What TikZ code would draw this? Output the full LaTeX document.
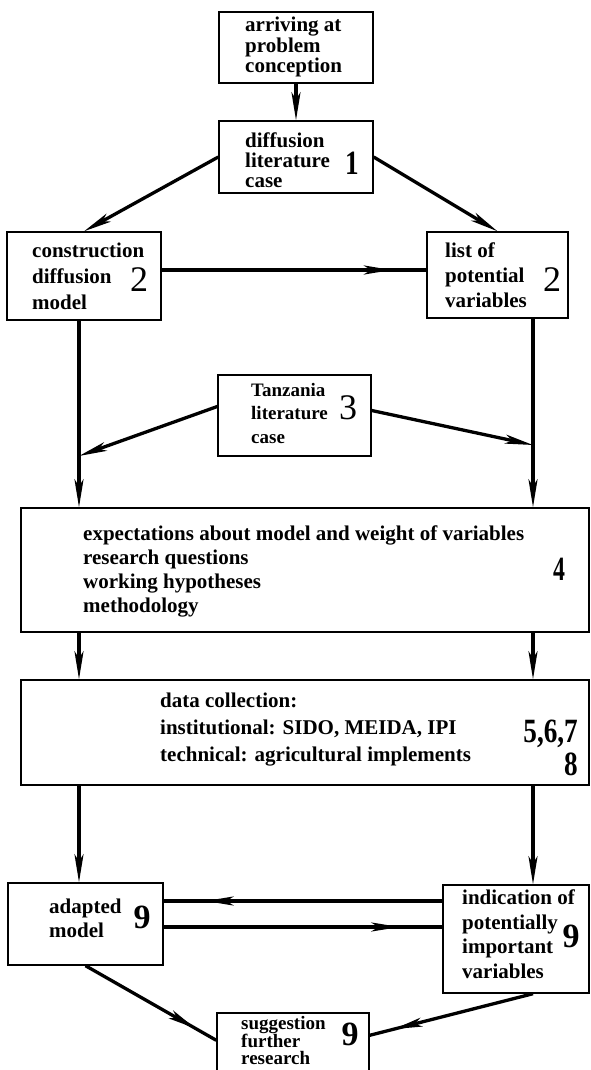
\documentclass[tikz,border=0pt]{standalone}
\usepackage{fontspec}
\setmainfont{Liberation Serif}
\usetikzlibrary{arrows.meta,decorations.markings}

\tikzset{
  hd/.tip={Stealth[length=28pt,width=9pt,inset=7pt]},
  link/.style={line width=3.3pt},
  endarrow/.style={link,-{hd}},
  midarrow/.style={link,postaction={decorate},
    decoration={markings,mark=at position #1 with {\arrow{hd}}}},
  stepbox/.style={draw,line width=1.4pt,inner sep=0pt},
  txt/.style={font=\bfseries\fontsize{21}{#1}\selectfont,align=left,anchor=west,inner sep=0pt},
  smalltxt/.style={font=\bfseries\fontsize{19}{#1}\selectfont,align=left,anchor=west,inner sep=0pt},
  num/.style={font=\bfseries\fontsize{34}{34}\selectfont,inner sep=0pt},
  numlight/.style={font=\fontsize{36}{36}\selectfont,inner sep=0pt},
}
% narrower digits for the stage numbers
\newcommand{\tightnum}[1]{\scalebox{0.8}[1]{#1}}

\begin{document}
\begin{tikzpicture}[x=1pt,y=-1pt]
\useasboundingbox (0,0) rectangle (591,1070);
\coordinate (lv) at (79,0);
\coordinate (rv) at (533,0);

% boxes
\node[stepbox,minimum width=154pt,minimum height=71pt] (prob) at (296,47.5) {};
\node[stepbox,minimum width=154pt,minimum height=72pt] (diff) at (296,157) {};
\node[stepbox,minimum width=154pt,minimum height=88pt] (cons) at (84,276) {};
\node[stepbox,minimum width=141pt,minimum height=86pt] (list) at (497.5,275) {};
\node[stepbox,minimum width=153pt,minimum height=81pt] (tanz) at (294.5,415.5) {};
\node[stepbox,minimum width=568pt,minimum height=124pt] (box4) at (305,570) {};
\node[stepbox,minimum width=568pt,minimum height=105pt] (box5) at (305,732.5) {};
\node[stepbox,minimum width=155pt,minimum height=82pt] (adap) at (85.5,924) {};
\node[stepbox,minimum width=146pt,minimum height=108pt] (indic) at (516,939) {};
\node[stepbox,minimum width=152pt,minimum height=72pt] (sugg) at (293,1049) {};

% texts
\node[txt=20.5] (probtxt) at (245,47) {arriving at\\problem\\conception};
\node[txt=20] (difftxt) at (245,160) {diffusion\\literature\\case};
\node[num] (diffnum) at (352,163) {\tightnum{1}};
\node[txt=26] (constxt) at (32,276) {construction\\diffusion\\model};
\node[numlight] (consnum) at (139,280) {2};
\node[txt=25] (listtxt) at (445,275) {list of\\potential\\variables};
\node[numlight] (listnum) at (552,280) {2};
\node[smalltxt=23.5] (tanztxt) at (251,413) {Tanzania\\literature\\case};
\node[numlight] (tanznum) at (348,408) {3};
\node[txt=24] (box4txt) at (83,571) {expectations about model and weight of variables\\research questions\\working hypotheses\\methodology};
\node[num] (box4num) at (559,569) {\scalebox{0.7}[1]{4}};
\node[txt=27] (box5txt) at (160,730) {data collection:\\institutional: SIDO, MEIDA, IPI\\technical: agricultural implements};
\node[num,anchor=east] (box5numa) at (578,734) {\tightnum{5,6,7}};
\node[num,anchor=east] (box5numb) at (578,764) {\tightnum{8}};
\node[txt=24] (adaptxt) at (49,918) {adapted\\model};
\node[num] (adapnum) at (142,917) {9};
\node[txt=24.5] (indictxt) at (462,934) {indication of\\potentially\\important\\variables};
\node[num] (indicnum) at (571,936) {9};
\node[smalltxt=17,anchor=north west] (suggtxt) at (241,1016) {suggestion\\further\\research};
\node[num] (suggnum) at (350,1034) {9};

% connectors
\coordinate (tl) at (79,456);
\coordinate (tr) at (533,445);
\draw[endarrow] (prob) -- (diff);
\draw[endarrow] (diff.west) -- (cons.north);
\draw[endarrow] (diff.east) -- (list.north);
\draw[midarrow=0.87] ([yshift=6pt]cons.east) -- ([yshift=6pt]cons.east -| list.west);
\draw[endarrow] (cons.south -| lv) -- (box4.north -| lv);
\draw[endarrow] (list.south -| rv) -- (box4.north -| rv);
\draw[endarrow] ([yshift=9pt]tanz.west) -- (tl);
\draw[endarrow] ([yshift=5pt]tanz.east) -- (tr);
\draw[endarrow] (box4.south -| lv) -- (box5.north -| lv);
\draw[endarrow] (box4.south -| rv) -- (box5.north -| rv);
\draw[endarrow] (box5.south -| lv) -- (adap.north -| lv);
\draw[endarrow] (box5.south -| rv) -- (indic.north -| rv);
\draw[midarrow=0.85] ([yshift=23pt]adap.east -| indic.west) -- ([yshift=23pt]adap.east);
\draw[midarrow=0.846] ([yshift=-3pt]adap.east) -- ([yshift=-3pt]adap.east -| indic.west);
\draw[midarrow=0.84] (adap.south) -- ([yshift=-28pt]sugg.north west);
\draw[midarrow=0.85] (indic.south -| rv) -- ([yshift=-23pt]sugg.north east);
\end{tikzpicture}
\end{document}
